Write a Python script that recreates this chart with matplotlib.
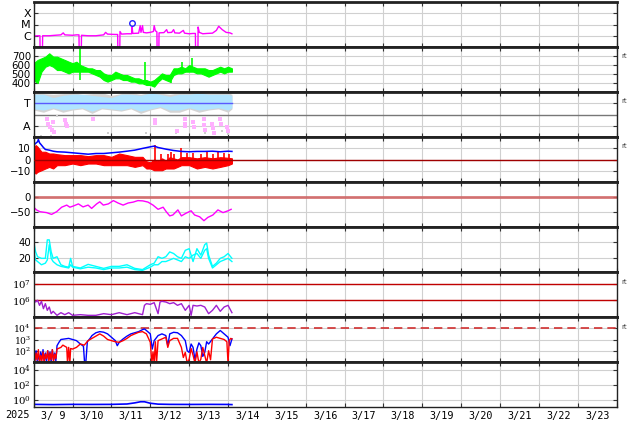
import numpy as np
import matplotlib
matplotlib.use("Agg")
import matplotlib.pyplot as plt

plt.rcParams['font.family'] = ['DejaVu Sans']
plt.rcParams['mathtext.fontset'] = 'dejavuserif'

# ---- data (time in days since 2025-03-09 00:00) ----
day_labels = ["3/ 9", "3/10", "3/11", "3/12", "3/13", "3/14", "3/15", "3/16",
              "3/17", "3/18", "3/19", "3/20", "3/21", "3/22", "3/23"]

# X-ray flux (W/m2)
xray_t = [0.00, 0.10, 0.16, 0.165, 0.225, 0.23, 0.40, 0.55, 0.70, 0.76, 0.80, 1.00, 1.10, 1.165,
          1.17, 1.225, 1.23, 1.40, 1.60, 1.80, 1.85, 1.90, 2.10, 2.16, 2.165, 2.215, 2.22, 2.26,
          2.40, 2.52, 2.53, 2.55, 2.70, 2.74, 2.76, 2.80, 2.82, 2.90, 3.00, 3.08, 3.10, 3.13,
          3.17, 3.175, 3.22, 3.225, 3.35, 3.42, 3.45, 3.55, 3.60, 3.63, 3.75, 3.85, 3.88, 4.00,
          4.10, 4.16, 4.165, 4.225, 4.23, 4.26, 4.35, 4.45, 4.60, 4.70, 4.76, 4.85, 4.95, 5.05, 5.10]
xray = [0.95e-6, 1.0e-6, 1.0e-6, 5e-8, 5e-8, 1.0e-6, 1.0e-6, 1.1e-6, 1.2e-6, 1.8e-6, 1.2e-6, 1.1e-6,
        1.2e-6, 1.2e-6, 5e-8, 5e-8, 1.1e-6, 1.0e-6, 1.0e-6, 1.2e-6, 2.0e-6, 1.4e-6, 1.3e-6, 1.3e-6,
        5e-8, 5e-8, 2.4e-6, 1.4e-6, 1.5e-6, 1.5e-6, 6e-6, 1.6e-6, 1.7e-6, 8e-6, 2e-6, 8e-6, 2e-6,
        1.8e-6, 2.0e-6, 2.4e-6, 8e-6, 2.8e-6, 2.2e-6, 5e-8, 5e-8, 1.8e-6, 1.9e-6, 3.5e-6, 1.9e-6,
        2.0e-6, 3.5e-6, 1.8e-6, 1.7e-6, 3e-6, 1.7e-6, 1.5e-6, 1.6e-6, 1.6e-6, 5e-8, 5e-8, 6e-6,
        2e-6, 1.5e-6, 1.6e-6, 1.7e-6, 3e-6, 7e-6, 3.5e-6, 2e-6, 1.8e-6, 1.5e-6]
flare_t = [2.53]
flare_v = [1.3e-5]

# solar wind speed (km/s), band envelope every 0.1 day
sw_t = np.round(np.arange(52) * 0.1, 1)
sw_hi = [620, 656, 674, 693, 730, 693, 693, 674, 656, 637,
         620, 637, 600, 581, 563, 563, 544, 544, 507, 489,
         489, 526, 507, 489, 489, 470, 452, 452, 433, 433,
         415, 433, 470, 507, 489, 489, 563, 563, 581, 563,
         600, 581, 563, 563, 563, 544, 544, 563, 581, 563,
         581, 563]
sw_lo = [430, 400, 526, 581, 600, 581, 544, 544, 526, 507,
         526, 526, 526, 526, 526, 507, 489, 470, 433, 415,
         433, 452, 452, 433, 433, 415, 415, 396, 396, 378,
         378, 360, 415, 452, 433, 415, 489, 507, 507, 526,
         526, 526, 507, 507, 489, 470, 489, 507, 526, 507,
         526, 526]
sw_spk_t = [1.19, 2.87, 3.54, 3.81, 4.07]
sw_spk_lo = [433, 420, 396, 530, 540]
sw_spk_hi = [800, 637, 470, 637, 674]

# IMF sector (T / A)
tb_t = [0, .25, .5, .75, 1, 1.25, 1.5, 1.75, 2, 2.25, 2.5, 2.75, 3, 3.25, 3.5, 3.75,
        4, 4.25, 4.5, 4.75, 5, 5.1]
tb_hi = [1.9, 1.9, 1.75, 1.85, 1.9, 1.9, 1.85, 1.8, 1.75, 1.9, 1.9, 1.85, 1.95, 1.9, 1.8, 1.9,
         1.9, 1.95, 1.9, 1.9, 1.9, 1.85]
tb_lo = [1.25, 1.2, 1.3, 1.2, 1.25, 1.3, 1.15, 1.3, 1.25, 1.2, 1.3, 1.15, 1.25, 1.35, 1.2, 1.2,
         1.3, 1.2, 1.25, 1.3, 1.2, 1.3]
gr_hi = [1.97, 1.93, 1.9, 1.93, 1.97, 1.9, 1.93, 1.97, 1.85, 1.93, 1.97, 1.9, 1.98, 1.95, 1.9,
         1.97, 1.97, 1.98, 1.93, 1.97, 1.97, 1.9]
gr_lo = [1.2, 1.1, 1.25, 1.1, 1.2, 1.25, 1.05, 1.25, 1.2, 1.15, 1.25, 1.05, 1.2, 1.3, 1.1, 1.1,
         1.25, 1.1, 1.2, 1.25, 1.1, 1.25]
pk_t = [0.35, 0.38, 0.42, 0.46, 0.5, 0.52, 0.8, 0.83, 0.85, 1.53, 3.11, 3.13, 3.68, 3.88,
        3.89, 3.9, 4.11, 4.12, 4.38, 4.39, 4.41, 4.6, 4.61, 4.63, 4.8, 4.82, 4.97, 4.99]
pk_y = [0.82, 0.6, 0.45, 0.3, 0.67, 0.23, 0.74, 0.6, 0.48, 0.78, 0.74, 0.62, 0.27, 0.78,
        0.6, 0.48, 0.67, 0.45, 0.78, 0.52, 0.33, 0.6, 0.38, 0.19, 0.78, 0.6, 0.43, 0.27]
gy_t = [0.2, 0.45, 0.6, 1.9, 2.9, 3.67, 4.4, 4.85, 5.0]
gy_y = [0.05, 0.05, 0.95, 0.2, 0.2, 0.2, 0.2, 0.25, 0.15]

# IMF Bt / Bz (nT)
bt_t = [0, .05, .1, .12, .15, .2, .25, .3, .4, .5, .6, .8, 1.0, 1.2, 1.4, 1.6, 1.8, 2.0, 2.2,
        2.4, 2.6, 2.8, 3.0, 3.1, 3.2, 3.4, 3.6, 3.8, 4.0, 4.2, 4.4, 4.6, 4.8, 5.0, 5.1]
bt = [12.5, 14, 15.4, 17.4, 14.5, 12.5, 10.4, 8.7, 8.1, 7.2, 6.7, 6.4, 5.8, 5.2, 4.6, 5.2, 5.2,
      5.8, 6.4, 7.2, 8.1, 9.6, 11, 11.6, 10.4, 9, 7.8, 7.0, 6.7, 7.0, 7.0, 7.2, 6.7, 7.2, 7.0]
bz_t = [0, .05, .1, .2, .3, .4, .5, .6, .8, 1.0, 1.2, 1.4, 1.6, 1.8, 2.0, 2.2, 2.4, 2.6, 2.8,
        2.9, 3.0, 3.1, 3.2, 3.3, 3.4, 3.5, 3.6, 3.7, 3.8, 4.0, 4.2, 4.4, 4.6, 4.8, 5.0, 5.1]
bz_hi = [9.6, 12.5, 11, 6.7, 6.7, 5.2, 5.2, 4.6, 3.8, 3.8, 3.8, 2.9, 3.8, 3.8, 2.3, 5.2, 3.8,
         2.3, 2.3, -1.5, -2.5, 0, -1.5, 1, -1, 2, 1, 0, 2, 2, 1, 2, 1, 2, 1.5, 1]
bz_lo = [-10.7, -12.2, -10.7, -9.3, -7.8, -6.4, -7.8, -4.9, -4.9, -3.5, -4.9, -3.5, -3.5, -4.9,
         -4.9, -4.9, -4.9, -6.4, -4.9, -7.8, -7.8, -9.3, -9.3, -9.3, -7.8, -7.8, -7.8, -6.4,
         -4.9, -4.9, -7.8, -6.4, -7.8, -6.4, -4.9, -3.5]
bz_spk_t = [3.12, 3.28, 3.45, 3.52, 3.62, 3.78, 3.95, 4.1, 4.3, 4.45, 4.62, 4.75, 4.9, 5.02]
bz_spk = [12.5, 5.2, 4.5, 6.7, 5.0, 9.6, 6.0, 6.0, 5.0, 6.5, 5.0, 7.0, 6.0, 5.0]

# Dst (nT)
dst_t = [0, .07, .16, .33, .46, .59, .72, .85, .93, 1.02, 1.15, 1.27, 1.4, 1.49, 1.62, 1.7,
         1.79, 1.92, 2.05, 2.17, 2.3, 2.43, 2.56, 2.68, 2.81, 2.94, 3.07, 3.2, 3.33, 3.41, 3.5,
         3.58, 3.71, 3.8, 3.92, 4.05, 4.14, 4.27, 4.38, 4.48, 4.61, 4.74, 4.87, 5.0, 5.08]
dst = [-34, -43, -49, -52, -58, -49, -34, -27, -34, -30, -23, -33, -27, -38, -23, -16, -27,
       -23, -12, -20, -27, -20, -17, -12, -13, -17, -27, -41, -34, -49, -63, -60, -43, -63,
       -54, -46, -60, -66, -79, -68, -60, -43, -52, -46, -41]

# cyan pair
cy_t = [0, 0.05, 0.1, 0.2, 0.3, 0.35, 0.4, 0.45, 0.5, 0.6, 0.7, 0.8, 0.9, 0.95, 1.0, 1.2, 1.4,
        1.6, 1.8, 2.0, 2.2, 2.4, 2.6, 2.8, 3.0, 3.1, 3.2, 3.3, 3.4, 3.5, 3.6, 3.7, 3.8, 3.9,
        4.0, 4.1, 4.2, 4.3, 4.4, 4.45, 4.5, 4.6, 4.7, 4.8, 4.9, 5.0, 5.1]
cy1 = [41, 28, 22, 20, 20, 43, 43, 28, 20, 22, 12, 10, 9, 20, 10, 8, 12.5, 10, 7.5, 10, 10,
       12, 7.5, 6, 12, 14, 22, 20, 22, 28, 26, 22, 20, 30, 32, 16, 32, 24, 37, 39, 24, 10, 14,
       20, 22, 26, 20]
cy2 = [30, 18, 16, 12, 14, 18, 37, 20, 16, 12, 10, 9, 8, 12, 9, 7, 9, 8, 6, 8, 8, 9, 6, 5, 9,
       12, 12, 16, 16, 18, 20, 18, 16, 22, 20, 24, 26, 20, 30, 32, 20, 8, 12, 16, 18, 20, 16]

# >2MeV electrons (log10 flux)
e_t = [0, .05, .1, .15, .2, .25, .3, .35, .4, .45, .5, .6, .7, .8, .9, 1.0, 1.2, 1.4, 1.6,
       1.8, 2.0, 2.2, 2.4, 2.6, 2.8, 2.85, 2.9, 3.0, 3.1, 3.2, 3.25, 3.3, 3.4, 3.5, 3.6, 3.7,
       3.8, 3.9, 4.0, 4.05, 4.1, 4.2, 4.3, 4.4, 4.5, 4.6, 4.7, 4.8, 4.9, 5.0, 5.1]
e_log = [6.06, 5.9, 6.0, 5.7, 5.94, 5.5, 5.8, 5.4, 5.6, 5.2, 5.34, 5.1, 5.26, 5.14, 5.26, 5.1,
         5.14, 5.1, 5.1, 5.2, 5.14, 5.26, 5.14, 5.26, 5.14, 5.7, 5.8, 5.76, 5.86, 5.2, 5.9,
         5.94, 5.9, 5.8, 5.86, 5.7, 5.8, 5.4, 5.7, 5.1, 5.7, 5.66, 5.7, 5.6, 5.2, 5.4, 5.7,
         5.34, 5.6, 5.7, 5.26]

# panel 8 (log10 flux), blue and red
pb_t = [0, .03, .06, .09, .12, .15, .18, .21, .24, .27, .30, .33, .36, .39, .42, .45, .48, .51,
        .54, .57, .60, .65, .70, .80, .90, 1.0, 1.1, 1.2, 1.28, 1.31, 1.34, 1.38, 1.45, 1.5, 1.6,
        1.7, 1.8, 1.9, 2.0, 2.1, 2.15, 2.2, 2.3, 2.4, 2.5, 2.6, 2.7, 2.8, 2.85, 2.9, 3.0, 3.05,
        3.1, 3.2, 3.3, 3.4, 3.45, 3.5, 3.6, 3.7, 3.8, 3.9, 3.95, 4.0, 4.05, 4.1, 4.15, 4.2, 4.25,
        4.3, 4.35, 4.4, 4.45, 4.5, 4.6, 4.7, 4.8, 4.9, 5.0, 5.05, 5.1]
pb_log = [1.9, 1.2, 2.0, 1.1, 1.7, 1.0, 1.9, 1.3, 2.1, 1.1, 1.8, 1.0, 2.0, 1.3, 1.9, 1.0, 2.1,
          1.2, 1.8, 1.1, 2.45, 2.75, 3.0, 3.05, 3.1, 3.0, 2.9, 2.6, 2.4, 0.9, 0.9, 2.8, 3.1,
          3.35, 3.6, 3.7, 3.65, 3.5, 3.2, 2.9, 2.45, 2.75, 3.05, 3.3, 3.5, 3.6, 3.7, 3.88, 3.94,
          3.8, 3.5, 2.15, 2.9, 3.35, 3.5, 3.35, 2.45, 3.5, 3.64, 3.6, 3.35, 2.9, 2.0, 1.85, 2.6,
          2.3, 1.2, 2.15, 2.7, 2.45, 1.5, 1.85, 2.8, 2.6, 3.05, 3.5, 3.8, 3.5, 3.2, 2.45, 3.05]
pr_t = [0, .03, .06, .09, .12, .15, .18, .21, .24, .27, .30, .33, .36, .39, .42, .45, .48, .51,
        .54, .57, .6, .7, .75, .8, .85, .87, .9, .93, .95, 1.0, 1.1, 1.2, 1.3, 1.4, 1.5, 1.6, 1.7,
        1.8, 1.9, 2.0, 2.1, 2.2, 2.3, 2.4, 2.5, 2.6, 2.7, 2.8, 2.9, 3.0, 3.04, 3.07, 3.1, 3.13,
        3.16, 3.2, 3.3, 3.4, 3.45, 3.5, 3.6, 3.7, 3.8, 3.85, 3.9, 3.95, 4.0, 4.05, 4.1, 4.15, 4.2,
        4.25, 4.3, 4.35, 4.4, 4.45, 4.5, 4.55, 4.6, 4.7, 4.8, 4.9, 4.97, 5.0, 5.03, 5.07, 5.1]
pr_log = [1.5, 1.0, 1.8, 1.2, 2.1, 1.0, 1.6, 1.1, 1.9, 1.0, 1.7, 1.3, 2.0, 1.0, 1.8, 1.2, 2.1,
          1.0, 1.7, 1.3, 2.15, 2.3, 2.5, 2.4, 2.3, 0.9, 2.3, 0.9, 2.2, 2.15, 2.3, 2.6, 2.5, 2.9,
          3.1, 3.3, 3.5, 3.3, 3.0, 2.9, 2.8, 2.75, 2.9, 3.1, 3.35, 3.5, 3.64, 3.7, 3.5, 2.75,
          0.9, 1.9, 0.9, 2.8, 0.9, 2.9, 3.05, 3.2, 2.3, 2.9, 3.1, 3.1, 2.3, 1.4, 1.85, 0.9, 1.25,
          2.2, 1.6, 0.9, 1.9, 0.9, 1.25, 2.3, 1.6, 0.9, 2.0, 1.2, 3.05, 3.2, 3.1, 3.0, 2.8, 0.9,
          2.9, 3.1, 3.05]

# panel 9 (log10 flux)
p9_t = [0, 0.5, 1.0, 1.5, 2.0, 2.4, 2.6, 2.75, 2.85, 3.0, 3.2, 3.5, 4.0, 4.5, 5.0, 5.1]
p9_log = [-0.65, -0.68, -0.65, -0.66, -0.65, -0.6, -0.45, -0.3, -0.3, -0.5, -0.62, -0.65,
          -0.66, -0.65, -0.66, -0.68]

# ---- figure ----
W, H = 634, 424
fig = plt.figure(figsize=(W / 100, H / 100), dpi=100)
x0, x1 = 33.7, 616.7
axes = []
for i in range(9):
    top = 2 + 45 * i
    ax = fig.add_axes([x0 / W, 1 - (top + 45) / H, (x1 - x0) / W, 45 / H])
    ax.set_xlim(0, 15)
    ax.set_xticks(range(16))
    ax.tick_params(axis='x', which='major', direction='in', length=3, top=True,
                   labelbottom=False, color='#333333')
    ax.tick_params(axis='y', which='both', direction='in', length=3, right=True,
                   pad=2, labelsize=7.3, color='#333333')
    ax.tick_params(axis='y', which='minor', length=0)
    ax.grid(True, which='major', color='#d0d0d0', lw=0.8)
    ax.set_axisbelow(True)
    for s in ('top', 'bottom'):
        ax.spines[s].set_linewidth(2.0)
        ax.spines[s].set_color('#222222')
    for s in ('left', 'right'):
        ax.spines[s].set_linewidth(1.0)
        ax.spines[s].set_color('#222222')
    axes.append(ax)
axes[-1].spines['bottom'].set_linewidth(1.0)

# 1: X-ray
ax = axes[0]
ax.set_yscale('log')
ax.set_ylim(1e-7, 1e-3)
ax.set_yticks([1e-6, 1e-5, 1e-4])
ax.set_yticklabels(['C', 'M', 'X'], fontsize=8)
ax.plot(xray_t, xray, color='#ff00ff', lw=1)
ax.plot(flare_t, flare_v, 'o', mfc='none', mec='#2020ff', ms=4, mew=1)

# 2: solar wind speed
ax = axes[1]
ax.set_ylim(300, 800)
ax.set_yticks([400, 500, 600, 700])
ax.fill_between(sw_t, sw_lo, sw_hi, color='#00ff00', lw=0.8)
ax.vlines(sw_spk_t, sw_spk_lo, sw_spk_hi, color='#00ff00', lw=1.2)

# 3: sector
ax = axes[2]
ax.set_ylim(0, 2)
ax.set_yticks([0.5, 1.5])
ax.set_yticklabels(['A', 'T'], fontsize=8)
ax.axhline(1.0, color='#777777', lw=1)
ax.fill_between(tb_t, gr_lo, gr_hi, color='#d4d4d4', lw=0)
ax.fill_between(tb_t, tb_lo, tb_hi, color='#b0e4ff', lw=0)
ax.plot(gy_t, gy_y, 's', color='#cfcfcf', ms=2, mew=0)
ax.plot(pk_t, pk_y, 's', color='#ffb0ff', ms=2.2, mew=0)
ax.plot([tb_t[0], tb_t[-1]], [1.5, 1.5], color='#5a5aff', lw=1)

# 4: Bt / Bz
ax = axes[3]
ax.set_ylim(-19.5, 19.5)
ax.set_yticks([-10, 0, 10])
ax.axhline(0, color='#a00000', lw=1, zorder=3)
ax.fill_between(bz_t, bz_lo, bz_hi, color='#ff0000', lw=0.8)
ax.vlines(bz_spk_t, -3, bz_spk, color='#ff0000', lw=1.2)
ax.plot(bt_t, bt, color='#0000ff', lw=1.1)

# 5: Dst
ax = axes[4]
ax.set_ylim(-100, 50)
ax.set_yticks([-50, 0])
ax.axhline(0, color='#d06060', lw=2, alpha=0.85)
ax.plot(dst_t, dst, color='#ff00ff', lw=1)

# 6: cyan pair
ax = axes[5]
ax.set_ylim(3, 59)
ax.set_yticks([20, 40])
ax.plot(cy_t, cy2, color='#00ffff', lw=1)
ax.plot(cy_t, cy1, color='#00ffff', lw=1)

# 7: electrons
ax = axes[6]
ax.set_yscale('log')
ax.set_ylim(1e5, 10 ** 7.7)
ax.set_yticks([1e6, 1e7])
ax.set_yticklabels([r'$10^{6}$', r'$10^{7}$'])
ax.axhline(1e6, color='#c00000', lw=1)
ax.axhline(1e7, color='#c00000', lw=1)
ax.plot(e_t, 10 ** np.array(e_log), color='#a020d0', lw=1)

# 8: blue / red fluxes
ax = axes[7]
ax.set_yscale('log')
ax.set_ylim(1e1, 1e5)
ax.set_yticks([1e2, 1e3, 1e4])
ax.set_yticklabels([r'$10^{2}$', r'$10^{3}$', r'$10^{4}$'], fontsize=6.6)
ax.axhline(1e4, color='#d03030', lw=1.2, ls=(0, (5, 3)))
ax.plot(pb_t, 10 ** np.array(pb_log), color='#0000ff', lw=1)
ax.plot(pr_t, 10 ** np.array(pr_log), color='#ff0000', lw=1)

# 9: bottom flux
ax = axes[8]
ax.set_yscale('log')
ax.set_ylim(1e-1, 1e5)
ax.set_yticks([1e0, 1e2, 1e4])
ax.set_yticklabels([r'$10^{0}$', r'$10^{2}$', r'$10^{4}$'])
ax.plot(p9_t, 10 ** np.array(p9_log), color='#0000ff', lw=1.2)

for ax in axes[6:]:
    ax.minorticks_off()
    ax.set_xticks(range(16))

# date labels under the last panel
ax = axes[-1]
ax.set_xticks(np.arange(15) + 0.5, minor=True)
ax.set_xticklabels(day_labels, minor=True)
ax.tick_params(axis='x', which='minor', length=0, pad=3, labelsize=7.3, labelbottom=True)
for lbl in ax.get_xticklabels(minor=True):
    lbl.set_family('DejaVu Sans Mono')

fig.text(17 / W, 1 - 415 / H, '2025', ha='center', va='center', fontsize=7.3,
         family='DejaVu Sans Mono')
for ypix in [56, 101, 146, 282, 327]:
    fig.text(621 / W, 1 - ypix / H, 'rt', ha='left', va='center', fontsize=5,
             color='#444444')

fig.savefig('out.png', dpi=100)
